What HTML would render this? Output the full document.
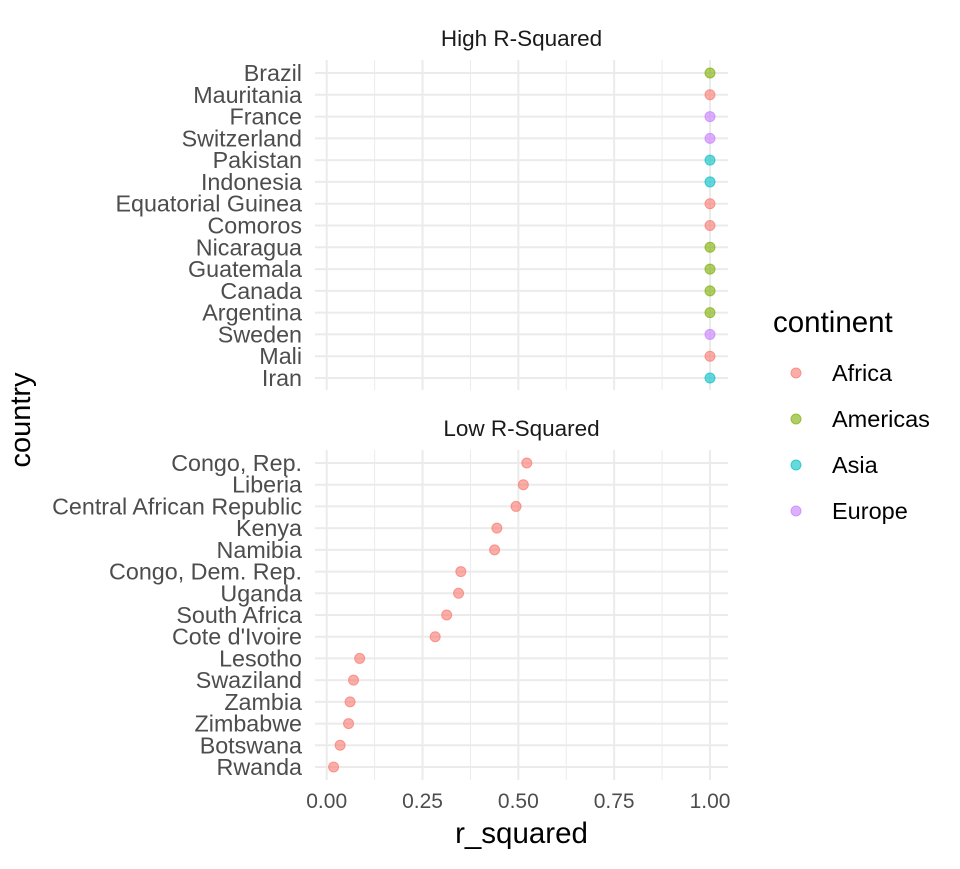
<!DOCTYPE html>
<html><head><meta charset="utf-8"><style>
body{margin:0;background:#fff}
svg text{font-family:"Liberation Sans",Arial,sans-serif}
</style></head><body>
<svg id="c" width="960" height="864" xmlns="http://www.w3.org/2000/svg"></svg>
<script>
const highCountries=["Brazil","Mauritania","France","Switzerland","Pakistan","Indonesia","Equatorial Guinea","Comoros","Nicaragua","Guatemala","Canada","Argentina","Sweden","Mali","Iran"];
const highValues=[1,1,1,1,1,1,1,1,1,1,1,1,1,1,1];
const highContinents=["Americas","Africa","Europe","Europe","Asia","Asia","Africa","Africa","Americas","Americas","Americas","Americas","Europe","Africa","Asia"];
const lowCountries=["Congo, Rep.","Liberia","Central African Republic","Kenya","Namibia","Congo, Dem. Rep.","Uganda","South Africa","Cote d'Ivoire","Lesotho","Swaziland","Zambia","Zimbabwe","Botswana","Rwanda"];
const lowValues=[0.522,0.513,0.494,0.444,0.438,0.350,0.344,0.313,0.283,0.086,0.070,0.061,0.057,0.035,0.018];
const lowContinents=["Africa","Africa","Africa","Africa","Africa","Africa","Africa","Africa","Africa","Africa","Africa","Africa","Africa","Africa","Africa"];
const xTicks=[0,0.25,0.5,0.75,1.0];
const xTickLabels=["0.00","0.25","0.50","0.75","1.00"];
const continents=["Africa","Americas","Asia","Europe"];
const colors={Africa:"#F8766D",Americas:"#7CAE00",Asia:"#00BFC4",Europe:"#C77CFF"};
const svg=document.getElementById('c');
const NS="http://www.w3.org/2000/svg";
function mk(t,a,p){const e=document.createElementNS(NS,t);for(const k in a)e.setAttribute(k,a[k]);(p||svg).appendChild(e);return e;}
const X0=326.7,X1=710,PL=315,PR=728;
const x=v=>X0+(X1-X0)*v;
function panel(name,title,top,bottom,firstY,lastY,countries,values,conts){
  const g=mk('g',{});
  
  
  const step=(lastY-firstY)/(countries.length-1);
  const y=i=>firstY+i*step;
  for(let i=0;i<xTicks.length-1;i++){const m=x((xTicks[i]+xTicks[i+1])/2);const l=mk('line',{x1:m,x2:m,y1:top,y2:bottom,stroke:'#ebebeb','stroke-width':1},g);}
  xTicks.forEach(t=>{const l=mk('line',{x1:x(t),x2:x(t),y1:top,y2:bottom,stroke:'#ebebeb','stroke-width':2},g);});
  countries.forEach((c,i)=>{const l=mk('line',{x1:PL,x2:PR,y1:y(i),y2:y(i),stroke:'#ebebeb','stroke-width':2},g);
    const t=mk('text',{x:302,y:y(i)+8,'text-anchor':'end','font-size':23.3,fill:'#4d4d4d'},g);t.textContent=c;});
  countries.forEach((c,i)=>{const p=mk('circle',{cx:x(values[i]),cy:y(i),r:5,fill:colors[conts[i]],'fill-opacity':0.6,stroke:colors[conts[i]],'stroke-opacity':0.7},g);});
  const s=mk('text',{x:(PL+PR)/2,y:top-14,'text-anchor':'middle','font-size':22.5,fill:'#1a1a1a'},g);s.textContent=title;
}
panel('high','High R-Squared',60,390,73,378,highCountries,highValues,highContinents);
panel('low','Low R-Squared',450,780,463,767,lowCountries,lowValues,lowContinents);
xTicks.forEach((t,i)=>{const e=mk('text',{x:x(t),y:808,'text-anchor':'middle','font-size':21,fill:'#4d4d4d'});e.textContent=xTickLabels[i];});
let e=mk('text',{x:(PL+PR)/2,y:843,'text-anchor':'middle','font-size':29.5,fill:'#000'});e.textContent='r_squared';
e=mk('text',{x:30,y:420,'text-anchor':'middle','font-size':29,fill:'#000',transform:'rotate(-90 30 420)'});e.textContent='country';
e=mk('text',{x:773,y:332,'font-size':29.5,fill:'#000'});e.textContent='continent';
continents.forEach((c,i)=>{const yy=373+i*46;
  const d=mk('circle',{cx:796,cy:yy,r:5,fill:colors[c],'fill-opacity':0.6,stroke:colors[c],'stroke-opacity':0.7});
  const t=mk('text',{x:832,y:yy+8,'font-size':23.5,fill:'#000'});t.textContent=c;});
</script>
</body></html>
